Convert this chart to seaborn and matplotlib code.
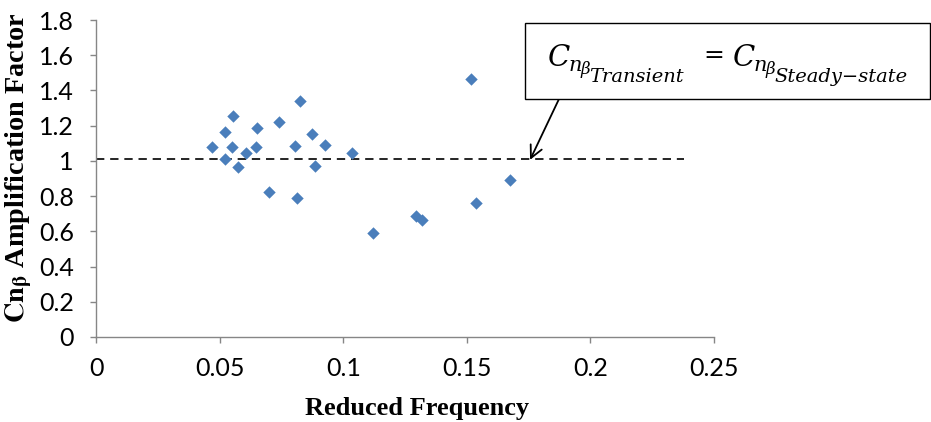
import matplotlib
matplotlib.use("Agg")
import matplotlib.pyplot as plt
import seaborn as sns
import pandas as pd
from matplotlib.patches import Rectangle

# Data
reduced_frequency = [0.0469, 0.0522, 0.0554, 0.0522, 0.0550, 0.0574, 0.0607, 0.0651,
                     0.0647, 0.0700, 0.0740, 0.0805, 0.0825, 0.0813, 0.0874, 0.0886,
                     0.0926, 0.1035, 0.1122, 0.1294, 0.1320, 0.1517, 0.1537, 0.1675]
amplification = [1.080, 1.165, 1.256, 1.010, 1.080, 0.966, 1.045, 1.188,
                 1.080, 0.824, 1.220, 1.085, 1.340, 0.790, 1.153, 0.970,
                 1.090, 1.045, 0.590, 0.688, 0.665, 1.466, 0.761, 0.892]
ref_line_x = [0.0, 0.238]
ref_line_y = [1.01, 1.01]
x_ticks = [0, 0.05, 0.1, 0.15, 0.2, 0.25]
x_tick_labels = ["0", "0.05", "0.1", "0.15", "0.2", "0.25"]
y_ticks = [0, 0.2, 0.4, 0.6, 0.8, 1.0, 1.2, 1.4, 1.6, 1.8]
y_tick_labels = ["0", "0.2", "0.4", "0.6", "0.8", "1", "1.2", "1.4", "1.6", "1.8"]
arrow_target = (0.1756, 1.006)

df = pd.DataFrame({"k": reduced_frequency, "amp": amplification})
ref = pd.DataFrame({"k": ref_line_x, "amp": ref_line_y})

sns.set_theme(style="white")
plt.rcParams["mathtext.fontset"] = "stix"
plt.rcParams["font.family"] = ["Lato", "DejaVu Sans"]

W, H = 931, 422
fig = plt.figure(figsize=(W / 100, H / 100), dpi=100)
ax = fig.add_axes([96 / W, 1 - 337 / H, (714 - 96) / W, (337 - 20) / H])

sns.lineplot(data=ref, x="k", y="amp", ax=ax, color="black", linewidth=1.2,
             dashes=False, linestyle=(0, (5, 3.5)), zorder=1)
sns.scatterplot(data=df, x="k", y="amp", ax=ax, marker="D", s=40,
                color="#4A7EBB", linewidth=0, zorder=3)

ax.set_xlim(0, 0.25)
ax.set_ylim(0, 1.8)
ax.set_xticks(x_ticks)
ax.set_xticklabels(x_tick_labels)
ax.set_yticks(y_ticks)
ax.set_yticklabels(y_tick_labels)

for s in ["top", "right"]:
    ax.spines[s].set_visible(False)
for s in ["left", "bottom"]:
    ax.spines[s].set_color("#868686")
    ax.spines[s].set_linewidth(1.0)
ax.tick_params(axis="both", which="major", direction="out", length=4.5, width=1,
               color="#868686", labelsize=18, labelcolor="black",
               bottom=True, left=True)
ax.tick_params(axis="x", pad=10)
ax.tick_params(axis="y", pad=11.5)

ax.set_xlabel("Reduced Frequency", family="Liberation Serif", fontweight="bold",
              fontsize=19, color="black")
ax.set_ylabel(r"$\mathbf{Cn_{\beta}}$ Amplification Factor", family="Liberation Serif",
              fontweight="bold", fontsize=20.3, color="black")
ax.xaxis.set_label_coords(0.519, -0.19)
ax.yaxis.set_label_coords(-0.1, 0.535)

# Annotation box
fig.patches.append(Rectangle((525 / W, 1 - 99 / H), 405 / W, 76 / H,
                             transform=fig.transFigure, facecolor="white",
                             edgecolor="black", linewidth=1.0, zorder=5))

def piece(px, py, s, size, italic=True):
    fig.text(px / W, 1 - py / H, s, ha="left", va="baseline", fontsize=size,
             family="DejaVu Serif", style="italic" if italic else "normal",
             color="black", zorder=6)

piece(548, 66, "C", 21)
piece(569, 71, "n", 15)
piece(581, 74, "\u03b2", 12)
piece(589, 82, "Transient", 14)
piece(703, 62, "=", 18, italic=False)
piece(733, 66, "C", 21)
piece(754, 71, "n", 15)
piece(766, 74, "\u03b2", 12)
piece(774, 82, "Steady\u2212state", 14)

ax.annotate("", xy=arrow_target, xycoords="data",
            xytext=(559 / W, 1 - 99 / H), textcoords="figure fraction",
            arrowprops=dict(arrowstyle="->", lw=1.3, color="black",
                            shrinkA=0, shrinkB=0, mutation_scale=22),
            annotation_clip=False)

fig.savefig("out.png", dpi=100)
